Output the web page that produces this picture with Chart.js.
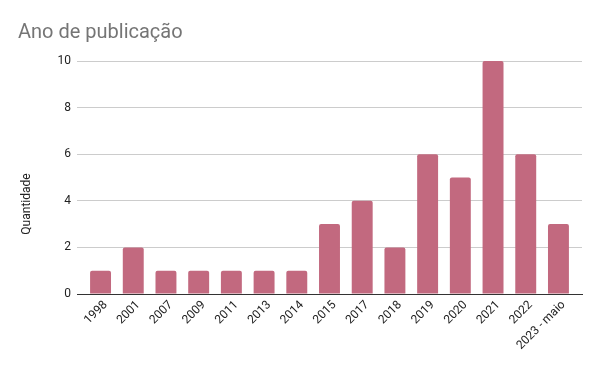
<!DOCTYPE html>
<html>
<head>
<meta charset="utf-8">
<script src="https://cdn.jsdelivr.net/npm/chart.js@4/dist/chart.umd.min.js"></script>
<style>
  html, body { margin: 0; padding: 0; background: #fff; }
  #wrap { width: 600px; height: 371px; position: relative; }
</style>
</head>
<body>
<div id="wrap"><canvas id="chart"></canvas></div>
<script>
const years = ['1998', '2001', '2007', '2009', '2011', '2013', '2014', '2015', '2017', '2018', '2019', '2020', '2021', '2022', '2023 - maio'];
const counts = [1, 2, 1, 1, 1, 1, 1, 3, 4, 2, 6, 5, 10, 6, 3];
const yTicks = [0, 2, 4, 6, 8, 10];

const chartTitle = 'Ano de publicação';
const yAxisTitle = 'Quantidade';
const barColor = '#c2697f';
const fontFamily = 'Roboto, Arial, sans-serif';

// title and rotated axis title sit where Sheets puts them, not where Chart.js would
const textPlugin = {
    id: 'sheetText',
    afterDraw(chart) {
        const ctx = chart.ctx;
        ctx.save();
        ctx.fillStyle = '#757575';
        ctx.font = `20px ${fontFamily}`;
        ctx.textBaseline = 'alphabetic';
        ctx.textAlign = 'left';
        ctx.fillText(chartTitle, 18, 38);

        ctx.fillStyle = '#222';
        ctx.font = `12px ${fontFamily}`;
        ctx.translate(27, 204);
        ctx.rotate(-Math.PI / 2);
        ctx.textAlign = 'center';
        ctx.textBaseline = 'middle';
        ctx.fillText(yAxisTitle, 0, 0);
        ctx.restore();
    }
};

new Chart(document.getElementById('chart'), {
    type: 'bar',
    data: {
        labels: years,
        datasets: [{
            label: yAxisTitle,
            data: counts,
            backgroundColor: barColor,
            borderRadius: { topLeft: 2, topRight: 2 },
            borderSkipped: 'bottom',
            categoryPercentage: 1,
            barPercentage: 0.64
        }]
    },
    options: {
        responsive: true,
        maintainAspectRatio: false,
        animation: false,
        layout: { padding: { top: 61, right: 18, left: 0, bottom: 0 } },
        plugins: {
            legend: { display: false },
            tooltip: { enabled: false }
        },
        scales: {
            x: {
                offset: false,
                grid: { display: false, drawTicks: false },
                border: { display: true, color: '#333', width: 1 },
                ticks: {
                    color: '#222',
                    font: { family: fontFamily, size: 12 },
                    maxRotation: 45,
                    minRotation: 45,
                    autoSkip: false,
                    padding: 4,
                    labelOffset: 5
                },
                // Sheets leaves extra room at both ends of the category axis
                afterBuildTicks(scale) {
                    scale._startValue = -0.72;
                    scale._valueRange = years.length - 1 + 1.44;
                },
                afterFit(scale) { scale.height = 77; }
            },
            y: {
                min: 0,
                max: 10,
                afterBuildTicks(scale) { scale.ticks = yTicks.map(v => ({ value: v })); },
                grid: {
                    color: ctx => ctx.tick && ctx.tick.value === 0 ? 'rgba(0,0,0,0)' : '#cccccc',
                    drawTicks: false
                },
                border: { display: false },
                ticks: {
                    color: '#222',
                    font: { family: fontFamily, size: 12 },
                    padding: 6
                },
                afterFit(scale) { scale.width = 77; }
            }
        }
    },
    plugins: [textPlugin]
});
</script>
</body>
</html>
